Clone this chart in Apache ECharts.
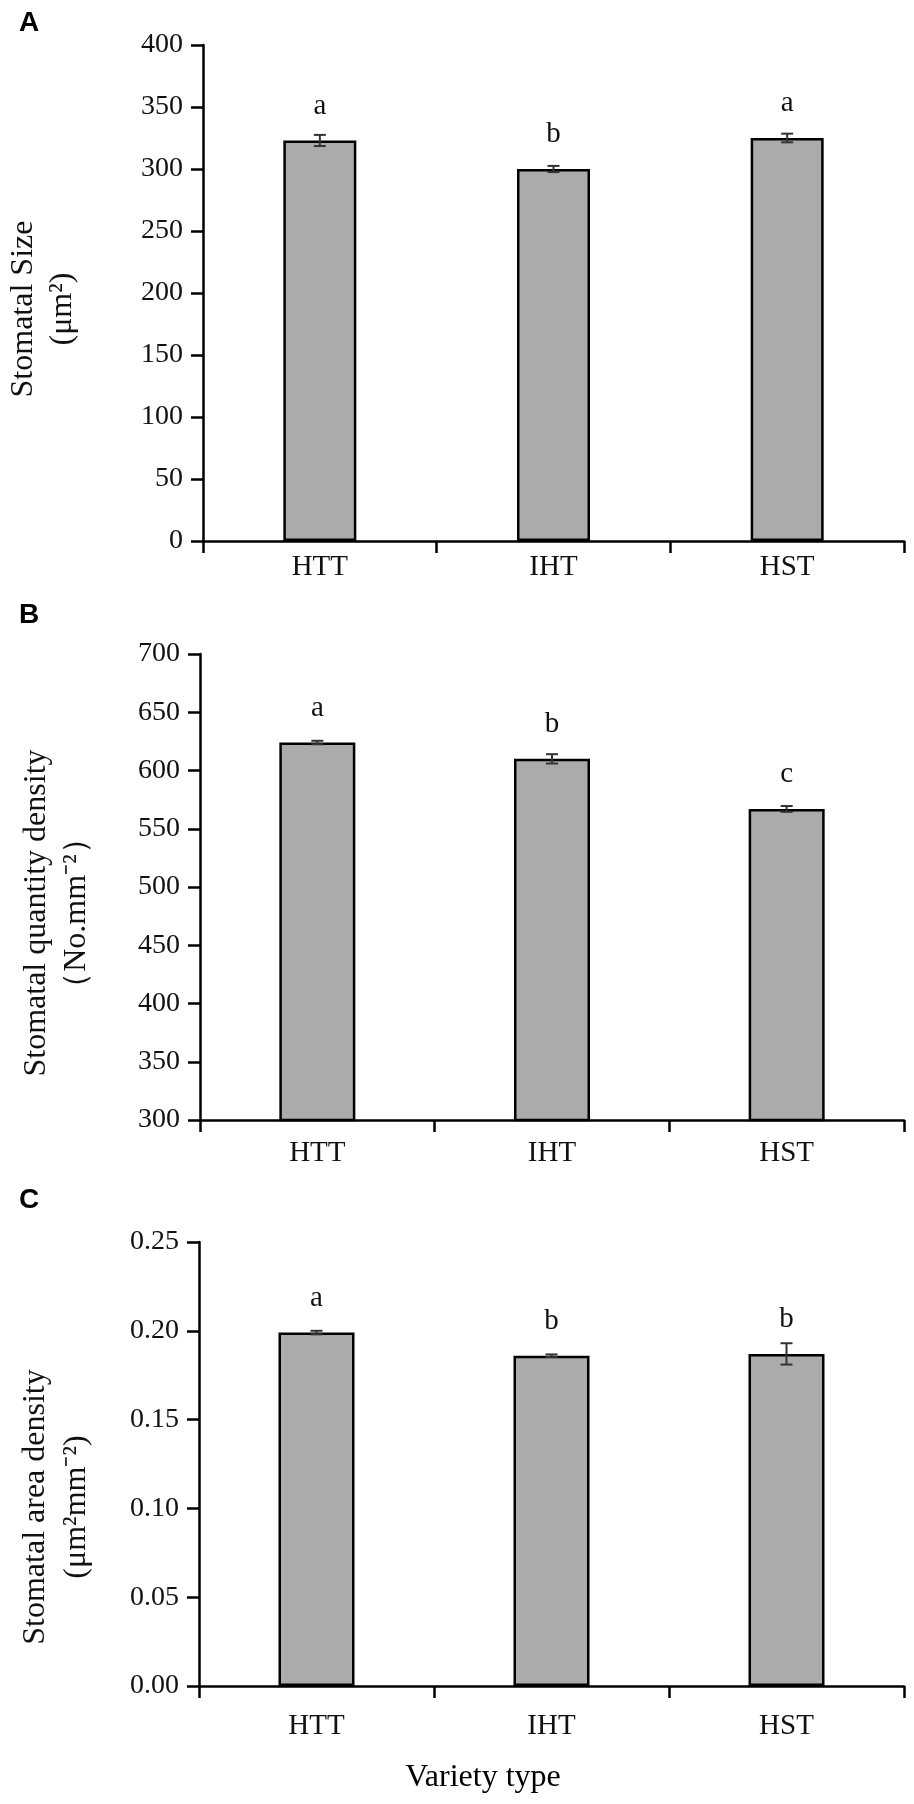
<!DOCTYPE html>
<html>
<head>
<meta charset="utf-8">
<script src="https://cdn.jsdelivr.net/npm/echarts@6/dist/echarts.min.js"></script>
<style>
html,body{margin:0;padding:0;background:#fff;}
#main{width:914px;height:1804px;}
</style>
</head>
<body>
<div id="main"></div>
<script>
// ---- data ----
const categories = ['HTT', 'IHT', 'HST'];

const sizeMeans = [323, 300, 325];
const sizeErr = [4.5, 2.5, 3.5];
const sizeLetters = ['a', 'b', 'a'];
const sizeTicks = [0, 400, 50];

const qtyMeans = [624, 610, 567];
const qtyErr = [1.5, 4, 2.5];
const qtyLetters = ['a', 'b', 'c'];
const qtyTicks = [300, 700, 50];

const areaMeans = [0.199, 0.186, 0.187];
const areaErr = [0.001, 0.0007, 0.006];
const areaLetters = ['a', 'b', 'b'];
const areaTicks = [0, 0.25, 0.05];

// ---- chart ----
const SERIF = '"Liberation Serif", "Times New Roman", serif';
const chart = echarts.init(document.getElementById('main'), null, {renderer: 'canvas'});

const grids = [
  {left: 203, right: 10, top: 45, height: 496},
  {left: 200, right: 10, top: 654, height: 466},
  {left: 199, right: 10, top: 1242, height: 444}
];
const catMargins = [12, 19, 26];
const barWidths = [73, 76, 76];

function xAxis(i) {
  return {
    type: 'category', gridIndex: i, data: categories,
    axisLine: {lineStyle: {color: '#000', width: 2.5}},
    axisTick: {show: true, length: 12, alignWithLabel: false, lineStyle: {color: '#000', width: 2.5}},
    axisLabel: {color: '#111', fontFamily: SERIF, fontSize: 29, margin: catMargins[i]},
    splitLine: {show: false}
  };
}
function yAxis(i, ticks, digits) {
  return {
    type: 'value', gridIndex: i, min: ticks[0], max: ticks[1], interval: ticks[2],
    axisLine: {show: true, lineStyle: {color: '#000', width: 2.5}},
    axisTick: {show: true, length: 12, lineStyle: {color: '#000', width: 2.5}},
    axisLabel: {color: '#111', fontFamily: SERIF, fontSize: 28, margin: 20,
      formatter: v => v.toFixed(digits)},
    splitLine: {show: false}
  };
}
function barSeries(i, means, letters) {
  return {
    type: 'bar', xAxisIndex: i, yAxisIndex: i, data: means, barWidth: barWidths[i],
    itemStyle: {color: '#ADAAAA', borderColor: '#000', borderWidth: 2.5},
    label: {show: true, position: 'top', distance: 20, color: '#111',
      fontFamily: SERIF, fontSize: 29, formatter: p => letters[p.dataIndex]},
    silent: true
  };
}
function errSeries(i, means, errs) {
  return {
    type: 'custom', xAxisIndex: i, yAxisIndex: i, z: 5, silent: true,
    encode: {x: 0, y: [1, 2]},
    data: means.map((m, k) => [k, m - errs[k], m + errs[k]]),
    renderItem: function (params, api) {
      const x = api.value(0);
      const lo = api.coord([x, api.value(1)]);
      const hi = api.coord([x, api.value(2)]);
      const h = 6;
      const st = {stroke: '#333', lineWidth: 2};
      return {type: 'group', children: [
        {type: 'line', shape: {x1: lo[0], y1: lo[1], x2: hi[0], y2: hi[1]}, style: st},
        {type: 'line', shape: {x1: hi[0] - h, y1: hi[1], x2: hi[0] + h, y2: hi[1]}, style: st},
        {type: 'line', shape: {x1: lo[0] - h, y1: lo[1], x2: lo[0] + h, y2: lo[1]}, style: st}
      ]};
    }
  };
}
function vText(x, y, text) {
  return {type: 'text', x: x, y: y, rotation: Math.PI / 2,
    style: {text: text, fill: '#111', fontFamily: SERIF, fontSize: 32, align: 'center', verticalAlign: 'middle'}};
}
function hText(x, y, text, bold) {
  return {type: 'text', x: x, y: y,
    style: {text: text, fill: '#000', fontFamily: bold ? '"Liberation Sans", Arial, sans-serif' : SERIF,
      fontWeight: bold ? 'bold' : 'normal', fontSize: bold ? 28 : 32, align: 'center', verticalAlign: 'middle'}};
}

chart.setOption({
  animation: false,
  backgroundColor: '#fff',
  grid: grids,
  xAxis: [xAxis(0), xAxis(1), xAxis(2)],
  yAxis: [yAxis(0, sizeTicks, 0), yAxis(1, qtyTicks, 0), yAxis(2, areaTicks, 2)],
  series: [
    barSeries(0, sizeMeans, sizeLetters), errSeries(0, sizeMeans, sizeErr),
    barSeries(1, qtyMeans, qtyLetters), errSeries(1, qtyMeans, qtyErr),
    barSeries(2, areaMeans, areaLetters), errSeries(2, areaMeans, areaErr)
  ],
  graphic: [
    hText(29, 23, 'A', true),
    hText(29, 615, 'B', true),
    hText(29, 1200, 'C', true),
    vText(24, 309, 'Stomatal Size'),
    vText(63, 309, '(μm²)'),
    vText(37, 913, 'Stomatal quantity density'),
    vText(77, 913, '（No.mm⁻²）'),
    vText(36, 1507, 'Stomatal area density'),
    vText(77, 1507, '(μm²mm⁻²)'),
    hText(483, 1778, 'Variety type', false)
  ]
});
</script>
</body>
</html>
